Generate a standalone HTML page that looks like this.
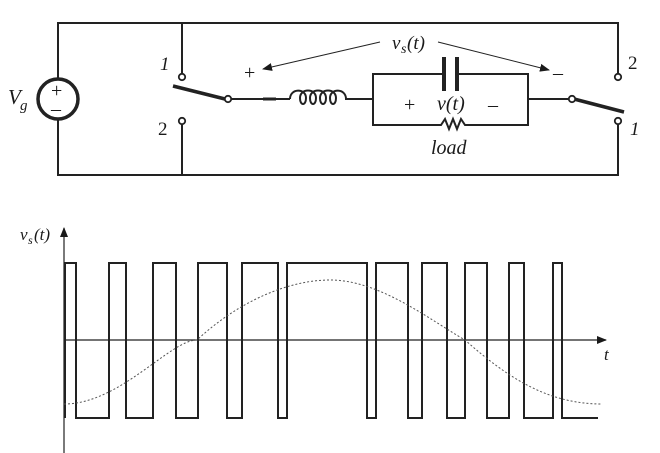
<!DOCTYPE html>
<html><head><meta charset="utf-8"><style>
html,body{margin:0;padding:0;background:#fff;width:660px;height:453px;overflow:hidden}
text{font-family:"Liberation Serif",serif;fill:#1a1a1a}
</style></head><body>
<svg width="660" height="453" viewBox="0 0 660 453" xmlns="http://www.w3.org/2000/svg">
<defs><marker id="ah" markerWidth="10" markerHeight="8" refX="9" refY="4" orient="auto" markerUnits="userSpaceOnUse"><path d="M0,0 L10,4 L0,8 z" fill="#1a1a1a"/></marker></defs>
<g stroke="#222" stroke-width="2" fill="none">
<path d="M58,78 V23 H618 V74"/>
<path d="M58,120 V175 H618 V124"/>
<path d="M182,23 V74 M182,124 V175"/>
<circle cx="58" cy="99" r="20" stroke-width="3.5"/>
<line x1="173" y1="86" x2="225" y2="99" stroke-width="3.5"/>
<line x1="574" y1="99" x2="624" y2="112" stroke-width="3.5"/>
<path d="M231,99 H290"/>
<line x1="263" y1="99" x2="276" y2="99" stroke-width="3"/>
<path d="M290,99 C290,88 306,88 306,98 C306,106 300,106 300,98 C300,88 316,88 316,98 C316,106 310,106 310,98 C310,88 326,88 326,98 C326,106 320,106 320,98 C320,88 336,88 336,98 C336,106 330,106 330,98 C330,88 346,88 346,99 H373"/>
<path d="M373,99 V74 H444 M457,74 H528 V125 H465 l-4,-6 l-4,10 l-4,-10 l-4,10 l-4,-10 l-4,6 H373 V99"/>
<path d="M528,99 H569"/>
</g>
<line x1="444" y1="57" x2="444" y2="91" stroke="#222" stroke-width="4"/>
<line x1="457" y1="57" x2="457" y2="91" stroke="#222" stroke-width="4"/>
<g fill="#fff" stroke="#222" stroke-width="1.8">
<circle cx="182" cy="77" r="3.2"/><circle cx="182" cy="121" r="3.2"/>
<circle cx="228" cy="99" r="3.2"/><circle cx="572" cy="99" r="3.2"/>
<circle cx="618" cy="77" r="3.2"/><circle cx="618" cy="121" r="3.2"/>
</g>
<text x="51" y="97" font-size="20">+</text>
<text x="51" y="115" font-size="20">–</text>
<text x="8" y="104" font-size="21" font-style="italic">V</text><text x="20" y="110" font-size="15" font-style="italic">g</text>
<text x="160" y="70" font-size="19" font-style="italic">1</text>
<text x="158" y="135" font-size="19">2</text>
<text x="628" y="69" font-size="19">2</text>
<text x="630" y="135" font-size="19" font-style="italic">1</text>
<text x="244" y="79" font-size="20">+</text>
<text x="553" y="79" font-size="20">–</text>
<text x="392" y="49" font-size="19" font-style="italic">v</text><text x="401" y="53" font-size="14" font-style="italic">s</text><text x="407" y="49" font-size="19" font-style="italic">(t)</text>
<line x1="380" y1="42" x2="263" y2="69" stroke="#222" stroke-width="1" marker-end="url(#ah)"/>
<line x1="438" y1="42" x2="549" y2="70" stroke="#222" stroke-width="1" marker-end="url(#ah)"/>
<text x="404" y="111" font-size="20">+</text>
<text x="437" y="110" font-size="20" font-style="italic">v(t)</text>
<text x="488" y="111" font-size="20">–</text>
<text x="431" y="154" font-size="20" font-style="italic">load</text>
<line x1="64" y1="453" x2="64" y2="228" stroke="#222" stroke-width="1.2" marker-end="url(#ah)"/>
<line x1="64" y1="340" x2="606" y2="340" stroke="#222" stroke-width="1.2" marker-end="url(#ah)"/>
<text x="20" y="240" font-size="17" font-style="italic">v</text><text x="28" y="244" font-size="12" font-style="italic">s</text><text x="34" y="240" font-size="17" font-style="italic">(t)</text>
<text x="604" y="360" font-size="17" font-style="italic">t</text>
<path fill="none" stroke="#222" stroke-width="2" d="M65,418 V263 H76 V418 H109 V263 H126 V418 H153 V263 H176 V418 H198 V263 H227 V418 H242 V263 H278 V418 H287 V263 H367 V418 H376 V263 H408 V418 H422 V263 H447 V418 H465 V263 H487 V418 H509 V263 H524 V418 H553 V263 H562 V418 H598"/>
<path fill="none" stroke="#555" stroke-width="1" stroke-dasharray="2,2" d="M64,404 C120,404 170,340 197,340 C240,300 290,280 330,280 C380,280 430,320 465,340 C510,380 550,404 602,404"/>
</svg>
</body></html>
